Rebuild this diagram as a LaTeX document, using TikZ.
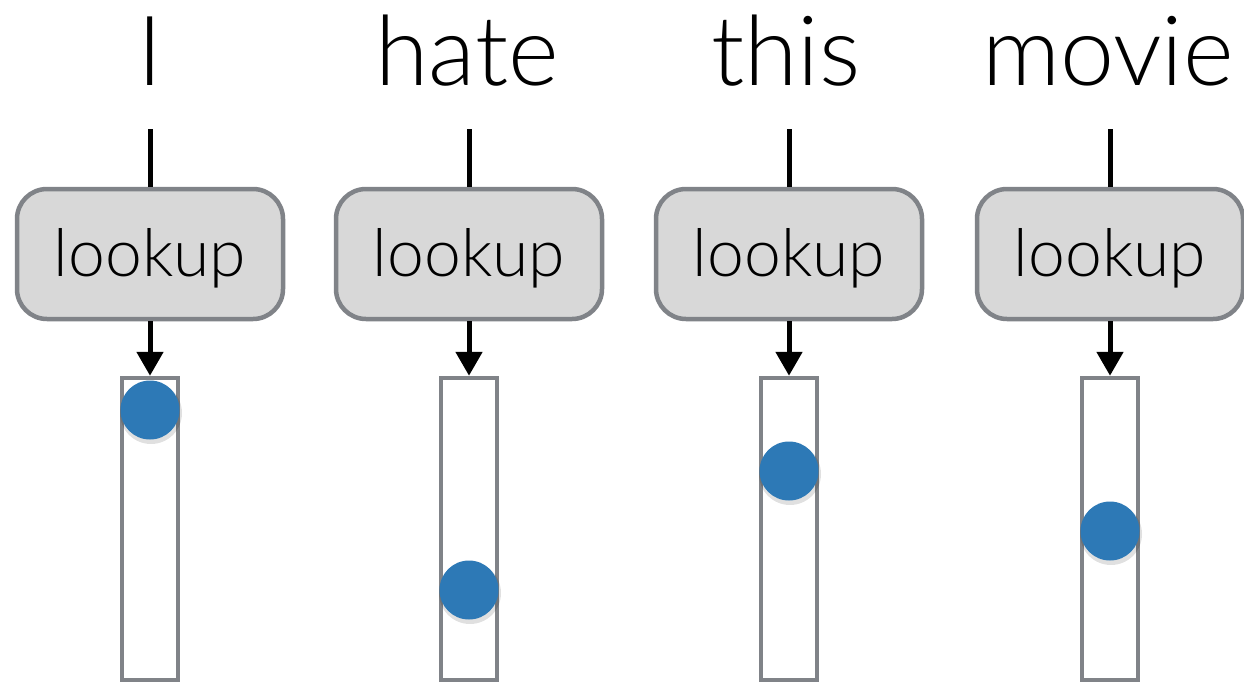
\documentclass[tikz,border=0pt]{standalone}
\usepackage{fontspec}
\setmainfont{Lato}[UprightFont=* Light]
\usetikzlibrary{arrows.meta}
\definecolor{boxgray}{RGB}{216,216,216}
\definecolor{edgegray}{RGB}{128,131,136}
\definecolor{dotblue}{RGB}{45,121,182}
\tikzset{
  word/.style={anchor=base,inner sep=0pt,font=\fontsize{97}{97}\selectfont},
  lookupbox/.style={draw=edgegray,fill=boxgray,line width=4.5pt,rounded corners=30pt,
    minimum width=266pt,minimum height=130pt,inner sep=0pt,text height=45pt,text depth=0pt,
    font=\fontsize{66}{66}\selectfont},
  vecbox/.style={draw=edgegray,fill=white,line width=4.5pt,minimum width=56pt,minimum height=302pt,inner sep=0pt},
  feed/.style={line width=5pt},
  embed/.style={line width=5pt,-{Triangle[width=26pt,length=24pt]}}
}
\begin{document}
\begin{tikzpicture}[yscale=-1,x=1pt,y=1pt]
    \useasboundingbox (0,0) rectangle (1244,683);

    \node[word] (wI) at (150,85) {I};
    \node[word] (whate) at (467,85) {hate};
    \node[word] (wthis) at (786,85) {this};
    \node[word] (wmovie) at (1108,85) {movie};

    \coordinate (tI) at (150,129);
    \coordinate (thate) at (469,129);
    \coordinate (tthis) at (789,129);
    \coordinate (tmovie) at (1110,129);

    \node[lookupbox] (lI) at (150,254) {lookup};
    \node[lookupbox] (lhate) at (469,254) {lookup};
    \node[lookupbox] (lthis) at (789,254) {lookup};
    \node[lookupbox] (lmovie) at (1110,254) {lookup};

    \node[vecbox] (vI) at (150,529) {};
    \node[vecbox] (vhate) at (469,529) {};
    \node[vecbox] (vthis) at (789,529) {};
    \node[vecbox] (vmovie) at (1110,529) {};

    \draw[feed] (tI) -- (lI.north);
    \draw[feed] (thate) -- (lhate.north);
    \draw[feed] (tthis) -- (lthis.north);
    \draw[feed] (tmovie) -- (lmovie.north);

    \draw[embed] (lI.south) -- (vI.north);
    \draw[embed] (lhate.south) -- (vhate.north);
    \draw[embed] (lthis.south) -- (vthis.north);
    \draw[embed] (lmovie.south) -- (vmovie.north);

    \fill[black,opacity=.12] (151,413) circle (31);
    \fill[black,opacity=.12] (470,593) circle (31);
    \fill[black,opacity=.12] (790,474) circle (31);
    \fill[black,opacity=.12] (1111,534) circle (31);

    \fill[dotblue] (150,410) circle (29.5);
    \fill[dotblue] (469,590) circle (29.5);
    \fill[dotblue] (789,471) circle (29.5);
    \fill[dotblue] (1110,531) circle (29.5);
\end{tikzpicture}
\end{document}
